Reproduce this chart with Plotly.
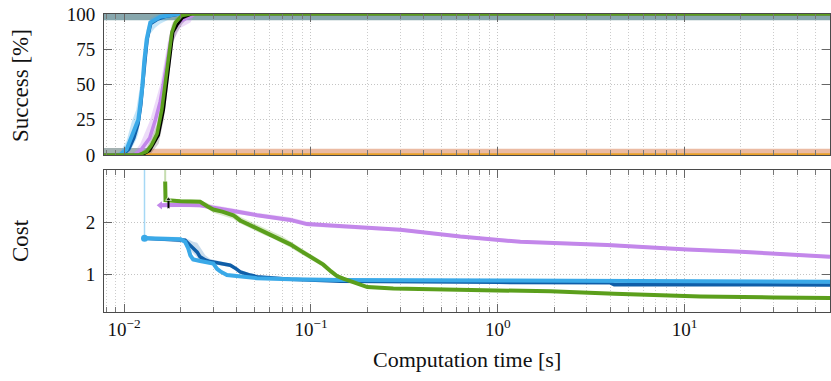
import math
import plotly.graph_objects as go

# ---------------- data: success rate [%] vs computation time [s] ----------------
lb_succ_t = [0.0078, 0.0095, 0.0103, 0.0110, 0.0116, 0.0119, 0.0122, 0.0125, 0.0128, 0.0132, 0.0138, 0.0146, 0.0156, 0.0172, 0.0192, 60]
lb_succ = [0, 0, 4, 13, 20, 25, 36, 48, 66, 82, 94, 96, 98, 99, 100, 100]
lb_succ_lo = [0, 0, 0, 5, 11, 15, 24, 36, 54, 70, 86, 90, 93, 96, 100, 100]
lb_succ_hi = [0, 2, 10, 24, 32, 40, 50, 62, 77, 89, 97, 99, 100, 100, 100, 100]

db_succ_t = [0.0078, 0.0098, 0.0106, 0.0113, 0.0119, 0.0123, 0.0126, 0.0129, 0.0133, 0.0139, 0.0150, 0.0165, 0.0200, 60]
db_succ = [0, 0, 4, 12, 22, 35, 50, 66, 82, 93, 96, 98, 100, 100]

pu_succ_t = [0.0078, 0.0113, 0.0122, 0.0127, 0.0137, 0.0147, 0.0156, 0.0162, 0.0171, 0.0181, 0.0200, 0.0226, 0.0240, 60]
pu_succ = [0, 0, 3, 6, 12, 25, 38, 50, 70, 88, 95, 98, 100, 100]
pu_succ_lo = [0, 0, 0, 2, 6, 16, 28, 40, 60, 80, 90, 94, 100, 100]
pu_succ_hi = [0, 2, 8, 14, 24, 38, 50, 62, 80, 94, 98, 100, 100, 100]

gr_succ_t = [0.0078, 0.0119, 0.0132, 0.0140, 0.0150, 0.0159, 0.0166, 0.0173, 0.0180, 0.0188, 0.0204, 0.0226, 60]
gr_succ = [0, 0, 2.4, 7, 15, 32, 51, 70, 87, 94, 99, 100, 100]
gr_succ_lo = [0, 0, 0, 3, 10, 25, 44, 63, 81, 90, 97, 100, 100]
gr_succ_hi = [0, 1, 5, 12, 22, 40, 58, 77, 92, 97, 100, 100, 100]

bk_succ_t = [0.0078, 0.0125, 0.0137, 0.0153, 0.0163, 0.0170, 0.0176, 0.0183, 0.0192, 0.0205, 0.0230, 60]
bk_succ = [0, 0, 3, 14, 32, 51, 70, 87, 92, 97, 100, 100]
bk_succ_lo = [0, 0, 0, 8, 25, 44, 62, 80, 87, 93, 100, 100]
bk_succ_hi = [0, 2, 7, 20, 40, 58, 77, 92, 96, 99, 100, 100]

or_succ_t = [0.0078, 60]
or_succ = [0, 0]
or_band_t = [0.0135, 60]
or_band_hi = [4.5, 4.5]

ci_low_t = [0.0078, 0.0135]
ci_low_hi = [5, 5]
ci_top_t = [0.0078, 60]
ci_top_lo = [95.5, 95.5]

# ---------------- data: cost vs computation time [s] ----------------
lb_cost_t = [0.01285, 0.0200, 0.0212, 0.0220, 0.0226, 0.0234, 0.0255, 0.0289, 0.0300, 0.0314, 0.0327, 0.0355, 0.0418, 0.0514, 0.0775, 0.1435, 1.0, 3.5, 60]
lb_cost = [1.69, 1.67, 1.62, 1.50, 1.36, 1.28, 1.25, 1.22, 1.20, 1.10, 1.05, 0.98, 0.95, 0.92, 0.90, 0.885, 0.875, 0.865, 0.85]
lb_cost_hi = [1.73, 1.71, 1.68, 1.60, 1.45, 1.33, 1.29, 1.26, 1.25, 1.16, 1.09, 1.01, 0.97, 0.94, 0.92, 0.90, 0.89, 0.88, 0.865]
lb_cost_lo = [1.66, 1.64, 1.55, 1.40, 1.29, 1.24, 1.22, 1.19, 1.16, 1.06, 1.01, 0.95, 0.93, 0.90, 0.885, 0.87, 0.86, 0.85, 0.835]
lb_spike_t = [0.01285, 0.01285]
lb_spike = [1.69, 3.3]

db_cost_t = [0.01285, 0.0212, 0.0223, 0.0234, 0.0246, 0.0255, 0.0272, 0.0289, 0.0327, 0.0370, 0.0398, 0.0418, 0.0473, 0.0514, 0.0775, 0.1435, 1.0, 4.0, 4.2, 60]
db_cost = [1.69, 1.65, 1.57, 1.50, 1.42, 1.33, 1.27, 1.24, 1.20, 1.17, 1.10, 1.04, 0.98, 0.95, 0.90, 0.86, 0.84, 0.83, 0.795, 0.79]
db_cost_hi = [1.72, 1.69, 1.66, 1.62, 1.60, 1.52, 1.36, 1.29, 1.24, 1.20, 1.14, 1.08, 1.01, 0.97, 0.92, 0.875, 0.85, 0.84, 0.805, 0.80]
db_cost_lo = [1.66, 1.60, 1.48, 1.40, 1.32, 1.26, 1.22, 1.20, 1.17, 1.13, 1.06, 1.00, 0.95, 0.93, 0.88, 0.845, 0.83, 0.82, 0.785, 0.78]

pu_cost_t = [0.01559, 0.0200, 0.0255, 0.0289, 0.0335, 0.0384, 0.0514, 0.0650, 0.0775, 0.0952, 0.1164, 0.1378, 0.3008, 0.6303, 1.321, 2.164, 3.849, 10.33, 19.93, 60]
pu_cost = [2.32, 2.33, 2.32, 2.29, 2.25, 2.21, 2.13, 2.08, 2.04, 1.96, 1.94, 1.91, 1.85, 1.72, 1.62, 1.59, 1.56, 1.47, 1.43, 1.33]
pu_cost_hi = [2.36, 2.37, 2.36, 2.34, 2.30, 2.26, 2.18, 2.13, 2.09, 2.01, 1.98, 1.95, 1.88, 1.75, 1.65, 1.62, 1.59, 1.50, 1.46, 1.36]
pu_cost_lo = [2.28, 2.29, 2.28, 2.25, 2.21, 2.17, 2.09, 2.04, 2.00, 1.92, 1.90, 1.88, 1.82, 1.69, 1.59, 1.56, 1.53, 1.44, 1.40, 1.30]

gr_cost_t = [0.01658, 0.01665, 0.0200, 0.0255, 0.0280, 0.0300, 0.0335, 0.0384, 0.0418, 0.0460, 0.0514, 0.0570, 0.0628, 0.0700, 0.0775, 0.0860, 0.0952, 0.1060, 0.1164, 0.1280, 0.1378, 0.1489, 0.1650, 0.1836, 0.2002, 0.2759, 0.500, 0.947, 1.913, 4.212, 12.16, 30.0, 60]
gr_cost = [2.78, 2.42, 2.40, 2.39, 2.30, 2.24, 2.20, 2.13, 2.03, 1.96, 1.88, 1.80, 1.74, 1.66, 1.57, 1.47, 1.37, 1.27, 1.18, 1.05, 0.96, 0.91, 0.85, 0.79, 0.75, 0.72, 0.70, 0.69, 0.667, 0.62, 0.57, 0.55, 0.54]
gr_cost_hi = [2.90, 2.47, 2.44, 2.43, 2.36, 2.30, 2.27, 2.20, 2.10, 2.03, 1.95, 1.87, 1.81, 1.73, 1.63, 1.53, 1.43, 1.32, 1.23, 1.10, 1.00, 0.94, 0.87, 0.81, 0.77, 0.735, 0.715, 0.70, 0.68, 0.63, 0.58, 0.56, 0.55]
gr_cost_lo = [2.70, 2.38, 2.36, 2.35, 2.25, 2.18, 2.13, 2.06, 1.97, 1.90, 1.82, 1.74, 1.68, 1.60, 1.51, 1.41, 1.31, 1.22, 1.13, 1.01, 0.93, 0.88, 0.83, 0.77, 0.73, 0.705, 0.685, 0.68, 0.655, 0.61, 0.56, 0.54, 0.53]
gr_spike_t = [0.01658, 0.01658]
gr_spike = [2.78, 3.3]

bk_cost_t = [0.01727, 0.01727]
bk_cost = [2.26, 2.44]

# ---------------- ticks / labels ----------------
x_tickvals = [0.01, 0.1, 1, 10]
x_ticktext = ["10<sup>−2</sup>", "10<sup>−1</sup>", "10<sup>0</sup>", "10<sup>1</sup>"]
succ_tickvals = [0, 25, 50, 75, 100]
cost_tickvals = [1, 2]
x_range = [0.0078, 60]
succ_range = [0, 100]
cost_range = [0.27, 3.0]

# ---------------- styles ----------------
C_LB = "#3aa9e8"
C_DB = "#0f5ea8"
C_PU = "#c387ea"
C_GR = "#5b9f1c"
C_OR = "#e9a02a"
FONT = "'Liberation Serif', 'Times New Roman', serif"

fig = go.Figure()


def band(t, lo, hi, color, xa, ya):
    fig.add_trace(go.Scatter(x=list(t) + list(t)[::-1], y=list(hi) + list(lo)[::-1],
                             fill="toself", fillcolor=color, line=dict(width=0),
                             mode="lines", hoverinfo="skip", xaxis=xa, yaxis=ya))


def line(t, y, color, width, xa, ya, **kw):
    fig.add_trace(go.Scatter(x=t, y=y, mode=kw.pop("mode", "lines"),
                             line=dict(color=color, width=width, shape=kw.pop("shape", "linear")),
                             xaxis=xa, yaxis=ya, **kw))


# ---- success panel (top) ----
band(ci_top_t, ci_top_lo, [100, 100], "#87a7ad", "x", "y")
band(ci_low_t, [0, 0], ci_low_hi, "#a3b1b1", "x", "y")
band(or_band_t, [0, 0], or_band_hi, "#ebbba3", "x", "y")
band(lb_succ_t, lb_succ_lo, lb_succ_hi, "rgba(58,169,232,0.30)", "x", "y")
band(pu_succ_t, pu_succ_lo, pu_succ_hi, "rgba(195,135,234,0.30)", "x", "y")
band(bk_succ_t, bk_succ_lo, bk_succ_hi, "rgba(0,0,0,0.18)", "x", "y")
band(gr_succ_t, gr_succ_lo, gr_succ_hi, "rgba(91,159,28,0.25)", "x", "y")
line(or_succ_t, or_succ, C_OR, 3.5, "x", "y")
line(db_succ_t, db_succ, C_DB, 3, "x", "y")
line(lb_succ_t, lb_succ, C_LB, 4, "x", "y")
line(pu_succ_t, pu_succ, C_PU, 3.5, "x", "y")
line(bk_succ_t, bk_succ, "#000000", 2.5, "x", "y")
line(gr_succ_t, gr_succ, C_GR, 3.5, "x", "y")

# ---- cost panel (bottom) ----
band(db_cost_t, db_cost_lo, db_cost_hi, "rgba(15,94,168,0.22)", "x2", "y2")
band(lb_cost_t, lb_cost_lo, lb_cost_hi, "rgba(58,169,232,0.25)", "x2", "y2")
band(pu_cost_t, pu_cost_lo, pu_cost_hi, "rgba(195,135,234,0.25)", "x2", "y2")
band(gr_cost_t, gr_cost_lo, gr_cost_hi, "rgba(91,159,28,0.22)", "x2", "y2")
line(lb_spike_t, lb_spike, "rgba(58,169,232,0.45)", 1.5, "x2", "y2")
line(gr_spike_t, gr_spike, "rgba(91,159,28,0.35)", 2, "x2", "y2")
line(db_cost_t, db_cost, C_DB, 3.5, "x2", "y2")
line(lb_cost_t, lb_cost, C_LB, 4, "x2", "y2")
line(pu_cost_t, pu_cost, C_PU, 4, "x2", "y2")
line(gr_cost_t, gr_cost, C_GR, 4, "x2", "y2")
line(bk_cost_t, bk_cost, "#000000", 2, "x2", "y2", mode="lines+markers",
     marker=dict(symbol=["line-ew", "triangle-up"], size=[1, 5], color="#000000"))
line(lb_cost_t[:1], lb_cost[:1], C_LB, 1, "x2", "y2", mode="markers",
     marker=dict(symbol="circle", size=7, color=C_LB))
line(pu_cost_t[:1], pu_cost[:1], C_PU, 1, "x2", "y2", mode="markers",
     marker=dict(symbol="triangle-left", size=7, color=C_PU))

# ---------------- axes ----------------
minor_vals = [m * 10 ** e for e in range(-3, 2) for m in range(2, 10)
              if x_range[0] <= m * 10 ** e <= x_range[1]]
grid = dict(showgrid=True, gridcolor="#c4c4c4", griddash="1px,2px", gridwidth=1)
frame = dict(showline=True, linecolor="#4a4a4a", linewidth=1, mirror="allticks",
             ticks="inside", ticklen=8, tickcolor="#666666", tickwidth=1,
             zeroline=False, automargin=False,
             tickfont=dict(family=FONT, size=19, color="#111111"))
xcommon = dict(type="log", range=[math.log10(x_range[0]), math.log10(x_range[1])],
               tickmode="array", tickvals=x_tickvals, ticktext=x_ticktext,
               minor=dict(tickmode="array", tickvals=minor_vals, ticks="inside", ticklen=5,
                          tickcolor="#777777", showgrid=True, gridcolor="#cccccc",
                          griddash="1px,2px", gridwidth=1),
               **grid, **frame)

fig.update_layout(
    width=831, height=381,
    margin=dict(l=104, r=1, t=14, b=69, autoexpand=False),
    paper_bgcolor="white", plot_bgcolor="white",
    showlegend=False,
    font=dict(family=FONT, size=19, color="#111111"),
    xaxis=dict(anchor="y", matches="x2", showticklabels=False, **xcommon),
    xaxis2=dict(anchor="y2", **xcommon),
    yaxis=dict(domain=[0.5268, 1.0], anchor="x", range=succ_range, tickvals=succ_tickvals,
               ticklabelstandoff=4, **grid, **frame),
    yaxis2=dict(domain=[0.0, 0.4765], anchor="x2", range=cost_range, tickvals=cost_tickvals,
                ticklabelstandoff=4, **grid, **frame),
    annotations=[
        dict(text="Success [%]", textangle=-90, xref="paper", yref="paper", x=-0.1157, y=0.758,
             xanchor="center", yanchor="middle", showarrow=False, font=dict(family=FONT, size=23)),
        dict(text="Cost", textangle=-90, xref="paper", yref="paper", x=-0.1157, y=0.238,
             xanchor="center", yanchor="middle", showarrow=False, font=dict(family=FONT, size=23)),
        dict(text="Computation time [s]", xref="paper", yref="paper", x=0.5, y=-0.161,
             xanchor="center", yanchor="middle", showarrow=False, font=dict(family=FONT, size=22)),
    ],
)

fig.write_html("out.html", config={"displayModeBar": False},
               post_script="document.body.style.margin='0';document.body.style.overflow='hidden';")
